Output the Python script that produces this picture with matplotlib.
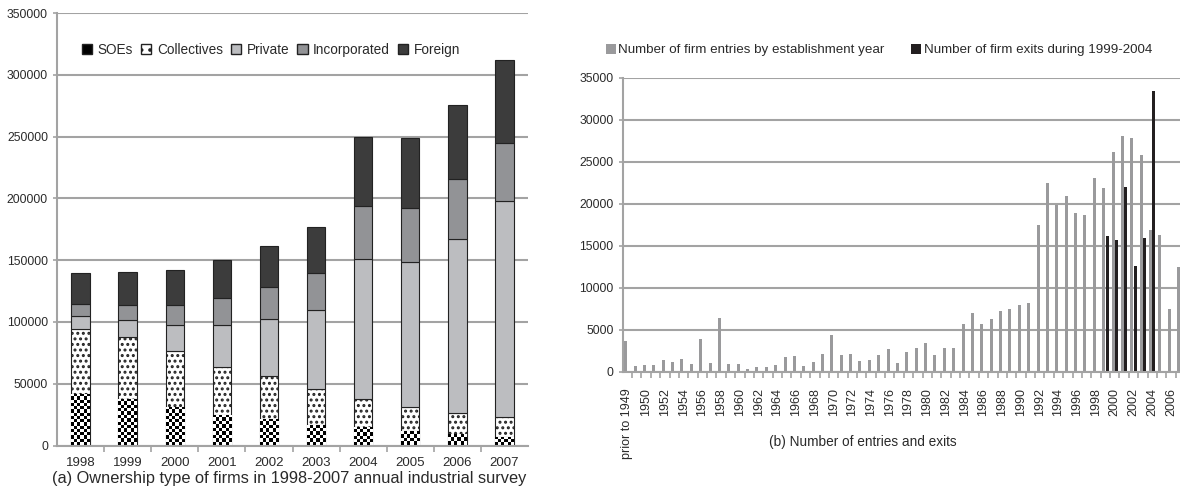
import numpy as np
import matplotlib
matplotlib.use("Agg")
import matplotlib.pyplot as plt
import matplotlib.patches as mpatches

plt.rcParams["font.family"] = ["Liberation Sans", "DejaVu Sans"]
plt.rcParams["hatch.linewidth"] = 1.4

# ---- data: (a) ownership type, 1998-2007 ----
years_a = ["1998", "1999", "2000", "2001", "2002", "2003", "2004", "2005", "2006", "2007"]
soes = [41400, 37900, 31400, 25000, 21200, 16700, 15300, 11600, 9200, 6800]
collectives = [53000, 49700, 45000, 38400, 34700, 28700, 22600, 19900, 17400, 16100]
private = [10200, 13700, 20900, 33900, 46200, 64300, 113200, 116900, 140400, 174800]
incorporated = [9900, 12700, 16400, 21800, 25900, 29500, 42900, 43600, 48400, 47200]
foreign = [25000, 26000, 28000, 30900, 33500, 37800, 55500, 56800, 60500, 67400]

# ---- data: (b) entries and exits ----
categories_b = ["prior to 1949"] + [str(y) for y in range(1949, 2008)]
entries = [3600, 650, 750, 800, 1350, 1150, 1500, 900, 3900, 1000,
           6350, 900, 900, 300, 500, 500, 750, 1750, 1850, 650,
           1100, 2100, 4300, 1950, 2100, 1250, 1350, 1950, 2700, 1000,
           2300, 2800, 3400, 1950, 2800, 2800, 5600, 6950, 5700, 6200,
           7200, 7450, 7900, 8150, 17400, 22400, 19850, 20950, 18850, 18700,
           23000, 21850, 26150, 28100, 27850, 25850, 16800, 16300, 7450, 12500]
exit_years = ["1999", "2000", "2001", "2002", "2003", "2004"]
exits = [16200, 15700, 22000, 12550, 15850, 33400]

W, H = 1180, 499
fig = plt.figure(figsize=(W / 100, H / 100), dpi=100)

grid_c = "#a3a3a3"
text_c = "#2a2a2a"


def style_axes(ax):
    for s in ["top", "right"]:
        ax.spines[s].set_visible(False)
    for s in ["left", "bottom"]:
        ax.spines[s].set_color(grid_c)
        ax.spines[s].set_linewidth(1.5)
    ax.yaxis.grid(True, color=grid_c, linewidth=1.5)
    ax.set_axisbelow(True)
    ax.tick_params(axis="both", colors=grid_c, labelcolor=text_c, labelsize=8.7)
    ax.tick_params(axis="y", length=3, width=1.2)


# ================= (a) =================
ax1 = fig.add_axes([57 / W, 1 - 445.5 / H, (528 - 57) / W, (445.5 - 13) / H])
style_axes(ax1)
x = np.arange(len(years_a))
bw = 0.39
ax1.set_xlim(-0.5, len(years_a) - 0.5)
ax1.set_ylim(0, 350000)

b_soe = ax1.bar(x, soes, bw, color="white", edgecolor="#222222", linewidth=0.8, zorder=2)
bottom = np.array(soes, dtype=float)
ax1.bar(x, collectives, bw, bottom=bottom, color="white", edgecolor="#222222",
        hatch="...", linewidth=0.8, zorder=2)
bottom += collectives
ax1.bar(x, private, bw, bottom=bottom, color="#bcbdc0", edgecolor="#222222", linewidth=0.8, zorder=2)
bottom += private
ax1.bar(x, incorporated, bw, bottom=bottom, color="#929396", edgecolor="#222222", linewidth=0.8, zorder=2)
bottom += incorporated
ax1.bar(x, foreign, bw, bottom=bottom, color="#3c3c3c", edgecolor="#222222", linewidth=0.8, zorder=2)

# checkerboard fill for SOEs
cell = 3.3
for rect in b_soe:
    x0, y0 = rect.get_x(), rect.get_y()
    x1, y1 = x0 + rect.get_width(), y0 + rect.get_height()
    p0 = ax1.transData.transform((x0, y0))
    p1 = ax1.transData.transform((x1, y1))
    nc = max(1, int(round((p1[0] - p0[0]) / cell)))
    nr = max(1, int(round((p1[1] - p0[1]) / cell)))
    board = (np.indices((nr, nc)).sum(axis=0) % 2).astype(float)
    im = ax1.imshow(board, extent=(x0, x1, y0, y1), cmap="gray", interpolation="nearest",
                    aspect="auto", origin="lower", zorder=2.5)
    im.set_clip_path(rect)
ax1.set_xlim(-0.5, len(years_a) - 0.5)
ax1.set_ylim(0, 350000)

ax1.set_yticks(np.arange(0, 350001, 50000))
ax1.set_xticks(x)
ax1.set_xticklabels(years_a)
ax1.tick_params(axis="x", which="major", length=0, pad=8, labelsize=9.5)
ax1.set_xticks(np.arange(0.5, len(years_a) - 0.5, 1), minor=True)
ax1.tick_params(axis="x", which="minor", length=4, width=1.2, color=grid_c)

handles_a = [
    mpatches.Patch(facecolor="black", edgecolor="#222222", label="SOEs"),
    mpatches.Patch(facecolor="white", edgecolor="#222222", hatch="..", label="Collectives"),
    mpatches.Patch(facecolor="#bcbdc0", edgecolor="#222222", label="Private"),
    mpatches.Patch(facecolor="#929396", edgecolor="#222222", label="Incorporated"),
    mpatches.Patch(facecolor="#3c3c3c", edgecolor="#222222", label="Foreign"),
]
ax1.legend(handles=handles_a, loc="center", bbox_to_anchor=(271 / W, 1 - 50 / H),
           bbox_transform=fig.transFigure, ncol=5, frameon=False, fontsize=9.8,
           handlelength=0.75, handleheight=0.75, handletextpad=0.4, columnspacing=0.6,
           labelcolor=text_c)

fig.text(289 / W, 1 - 478 / H, "(a) Ownership type of firms in 1998-2007 annual industrial survey",
         ha="center", va="center", fontsize=11.8, color=text_c)

# ================= (b) =================
ax2 = fig.add_axes([622.7 / W, 1 - 371.5 / H, (1185 - 622.7) / W, (371.5 - 77.7) / H])
style_axes(ax2)
xb = np.arange(len(categories_b))
ax2.set_xlim(-0.5, len(categories_b) - 0.5)
ax2.set_ylim(0, 35000)
bw2 = 0.32
ax2.bar(xb - 0.18, entries, bw2, color="#9a9a9c", zorder=2,
        label="Number of firm entries by establishment year")
xe = np.array([categories_b.index(y) for y in exit_years])
ax2.bar(xe + 0.18, exits, bw2, color="#231f20", zorder=2,
        label="Number of firm exits during 1999-2004")

ax2.set_yticks(np.arange(0, 35001, 5000))
ax2.set_xticks(xb[::2])
ax2.set_xticklabels(categories_b[::2], rotation=90, va="top", ha="center")
ax2.tick_params(axis="x", which="major", length=0, pad=12, labelsize=9)
ax2.set_xticks(np.arange(0.5, len(categories_b) - 0.5, 1), minor=True)
ax2.tick_params(axis="x", which="minor", length=4, width=1.2, color=grid_c)

ax2.legend(loc="center", bbox_to_anchor=(879 / W, 1 - 50 / H), bbox_transform=fig.transFigure,
           ncol=2, frameon=False, fontsize=9.6, handlelength=0.75, handleheight=0.75,
           handletextpad=0.2, columnspacing=2.0, labelcolor=text_c)

fig.text(863 / W, 1 - 442 / H, "(b) Number of entries and exits",
         ha="center", va="center", fontsize=9.8, color=text_c)

fig.savefig("out.png", dpi=100)
